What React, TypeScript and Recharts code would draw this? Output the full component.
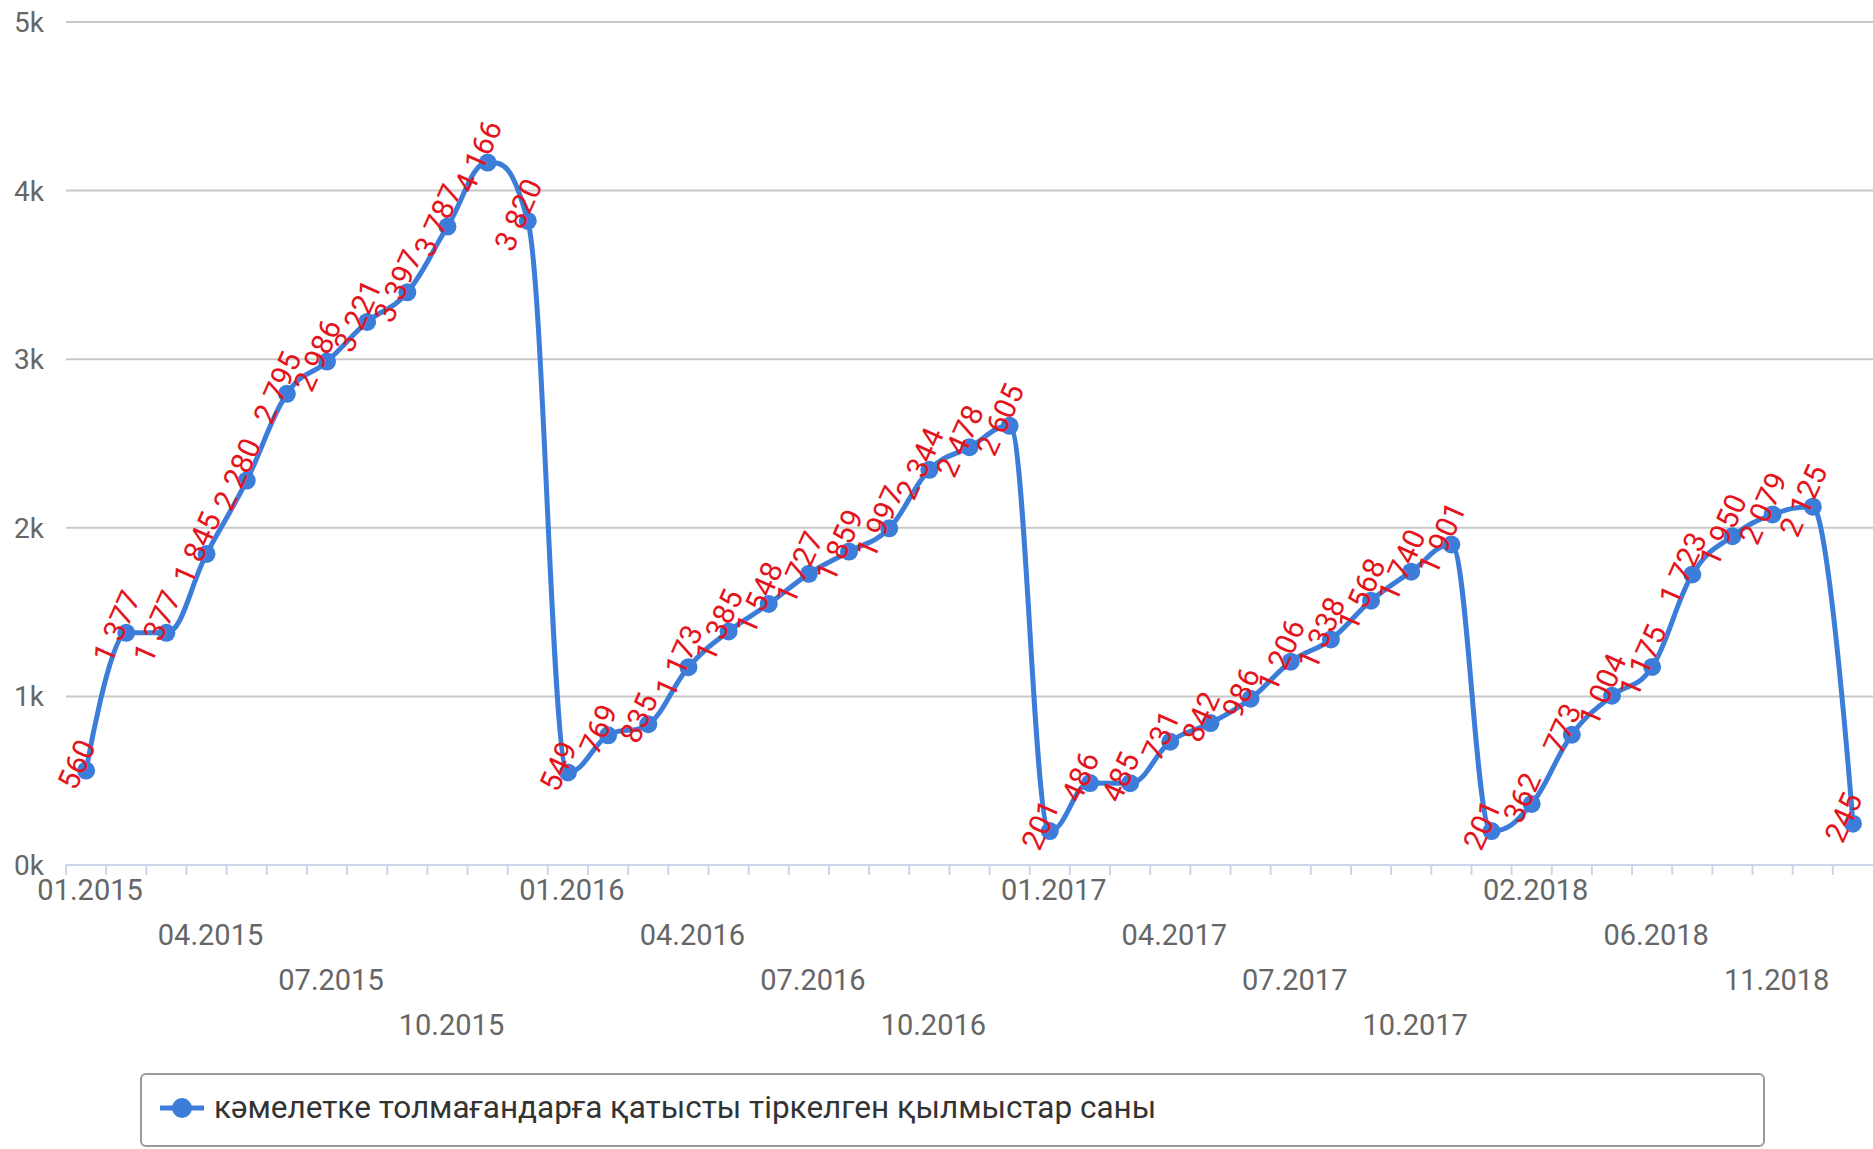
import React from 'react';
import { LineChart, Line, XAxis, YAxis, CartesianGrid, LabelList, Legend } from 'recharts';

const months: string[] = [
  '01.2015', '02.2015', '03.2015', '04.2015', '05.2015', '06.2015', '07.2015', '08.2015', '09.2015', '10.2015', '11.2015', '12.2015',
  '01.2016', '02.2016', '03.2016', '04.2016', '05.2016', '06.2016', '07.2016', '08.2016', '09.2016', '10.2016', '11.2016', '12.2016',
  '01.2017', '02.2017', '03.2017', '04.2017', '05.2017', '06.2017', '07.2017', '08.2017', '09.2017', '10.2017', '11.2017',
  '01.2018', '02.2018', '03.2018', '05.2018', '06.2018', '07.2018', '09.2018', '11.2018', '12.2018', '01.2019',
];

const crimes: number[] = [
  560, 1377, 1377, 1845, 2280, 2795, 2986, 3221, 3397, 3787, 4166, 3820,
  549, 769, 835, 1173, 1385, 1548, 1727, 1859, 1997, 2344, 2478, 2605,
  201, 486, 485, 731, 842, 986, 1206, 1338, 1568, 1740, 1901,
  201, 362, 773, 1004, 1175, 1723, 1950, 2079, 2125, 245,
];

const yTicks: number[] = [0, 1000, 2000, 3000, 4000, 5000];

const seriesName = 'кәмелетке толмағандарға қатысты тіркелген қылмыстар саны';

const data = months.map((m, i) => ({ month: m, value: crimes[i] }));

const BLUE = '#3b7dd8';
const RED = '#e3141c';
const FONT = 'Roboto, "Noto Sans", sans-serif';

const fmt = (v: number) =>
  v >= 1000 ? `${Math.floor(v / 1000)} ${String(v % 1000).padStart(3, '0')}` : String(v);

// Highcharts-like spline curve factory
function hcSpline(context: any) {
  let pts: [number, number][] = [];
  return {
    areaStart() {},
    areaEnd() {},
    lineStart() {
      pts = [];
    },
    lineEnd() {
      const n = pts.length;
      if (!n) return;
      const lc: [number, number][] = [];
      const rc: [number, number][] = [];
      for (let i = 0; i < n; i++) {
        const [x, y] = pts[i];
        if (i > 0 && i < n - 1) {
          const [lx, ly] = pts[i - 1];
          const [nx, ny] = pts[i + 1];
          const s = 1.5;
          const d = 2.5;
          let lcx = (s * x + lx) / d;
          let lcy = (s * y + ly) / d;
          let rcx = (s * x + nx) / d;
          let rcy = (s * y + ny) / d;
          if (rcx !== lcx) {
            const corr = ((rcy - lcy) * (rcx - x)) / (rcx - lcx) + y - rcy;
            lcy += corr;
            rcy += corr;
          }
          if (lcy > ly && lcy > y) {
            lcy = Math.max(ly, y);
            rcy = 2 * y - lcy;
          } else if (lcy < ly && lcy < y) {
            lcy = Math.min(ly, y);
            rcy = 2 * y - lcy;
          }
          if (rcy > ny && rcy > y) {
            rcy = Math.max(ny, y);
            lcy = 2 * y - rcy;
          } else if (rcy < ny && rcy < y) {
            rcy = Math.min(ny, y);
            lcy = 2 * y - rcy;
          }
          lc[i] = [lcx, lcy];
          rc[i] = [rcx, rcy];
        } else {
          lc[i] = [x, y];
          rc[i] = [x, y];
        }
      }
      context.moveTo(pts[0][0], pts[0][1]);
      for (let i = 1; i < n; i++) {
        context.bezierCurveTo(rc[i - 1][0], rc[i - 1][1], lc[i][0], lc[i][1], pts[i][0], pts[i][1]);
      }
    },
    point(x: number, y: number) {
      pts.push([+x, +y]);
    },
  };
}

const XTick = (props: any) => {
  const { x, y, payload, index } = props;
  const half = payload && typeof payload.offset === 'number' && payload.offset > 0 ? payload.offset : 20;
  const axisY = y - 10;
  const row = Math.floor(index / 3) % 4;
  const showLabel = index % 3 === 0;
  return (
    <g>
      <line x1={x - half} y1={axisY} x2={x - half} y2={axisY + 10} stroke="#ccd6eb" strokeWidth={2} />
      {showLabel && (
        <text
          x={x + 4}
          y={axisY + 35 + row * 45}
          textAnchor="middle"
          fill="#666666"
          fontSize={29}
          fontFamily={FONT}
        >
          {payload.value}
        </text>
      )}
    </g>
  );
};

const YTick = (props: any) => {
  const { y, payload } = props;
  return (
    <text x={14} y={y} dy={10} textAnchor="start" fill="#666666" fontSize={28} fontFamily={FONT}>
      {`${payload.value / 1000}k`}
    </text>
  );
};

const DataLabel = (props: any) => {
  const { x, y, value } = props;
  const ax = x;
  const ay = y - 2;
  return (
    <text
      x={ax}
      y={ay}
      textAnchor="middle"
      fill={RED}
      fontSize={30}
      fontFamily={FONT}
      transform={`rotate(-66, ${ax}, ${ay})`}
    >
      {fmt(value)}
    </text>
  );
};

const LegendBox = () => (
  <div
    style={{
      boxSizing: 'border-box',
      width: 1625,
      height: 74,
      border: '2px solid #9a9a9a',
      borderRadius: 6,
      background: '#ffffff',
      display: 'flex',
      alignItems: 'center',
      paddingLeft: 17,
      paddingBottom: 4,
      fontFamily: FONT,
    }}
  >
    <svg width={46} height={24} style={{ display: 'block' }}>
      <line x1={1} y1={12} x2={45} y2={12} stroke={BLUE} strokeWidth={5} />
      <circle cx={23} cy={12} r={10} fill={BLUE} />
    </svg>
    <span style={{ marginLeft: 9, fontSize: 31.5, color: '#333333', lineHeight: '32px' }}>{seriesName}</span>
  </div>
);

export default function App() {
  return (
    <div style={{ position: 'absolute', left: 0, top: 0, width: 1873, height: 1149, background: '#ffffff' }}>
      <LineChart
        width={1873}
        height={1149}
        data={data}
        margin={{ top: 22, right: 0, bottom: 0, left: 0 }}
        style={{ fontFamily: FONT }}
      >
        <CartesianGrid vertical={false} stroke="#c8c8c8" strokeWidth={2} />
        <XAxis
          dataKey="month"
          scale="band"
          interval={0}
          height={284}
          tickSize={10}
          tickMargin={0}
          tickLine={false}
          axisLine={{ stroke: '#ccd6eb', strokeWidth: 2 }}
          tick={<XTick />}
        />
        <YAxis
          domain={[0, 5000]}
          ticks={yTicks}
          width={66}
          axisLine={false}
          tickLine={false}
          tick={<YTick />}
          interval={0}
        />
        <Legend
          layout="horizontal"
          verticalAlign="middle"
          align="center"
          wrapperStyle={{ position: 'absolute', left: 140, top: 1073, width: 1625, height: 74 }}
          content={() => <LegendBox />}
        />
        <Line
          dataKey="value"
          name={seriesName}
          type={hcSpline as any}
          stroke={BLUE}
          strokeWidth={5}
          dot={{ r: 9, fill: BLUE, stroke: 'none' }}
          activeDot={false}
          isAnimationActive={false}
        >
          <LabelList dataKey="value" content={<DataLabel />} />
        </Line>
      </LineChart>
    </div>
  );
}
